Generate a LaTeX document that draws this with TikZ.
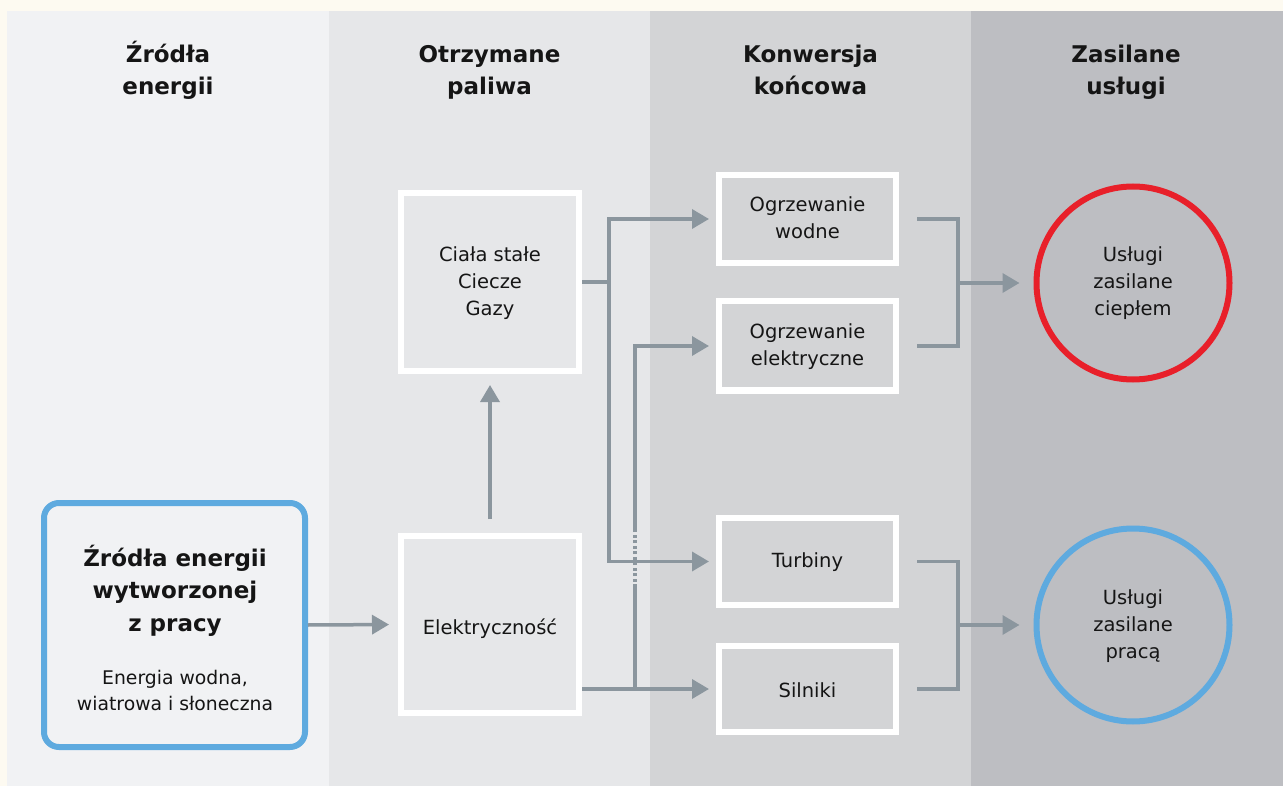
\documentclass[tikz,border=0pt]{standalone}
\usepackage{fontspec}
\setmainfont{DejaVu Sans}
\usetikzlibrary{arrows.meta}
\definecolor{cream}{HTML}{FDFAF1}
\definecolor{colA}{HTML}{F1F2F4}
\definecolor{colB}{HTML}{E6E7E9}
\definecolor{colC}{HTML}{D3D4D6}
\definecolor{colD}{HTML}{BDBEC2}
\definecolor{arrowc}{HTML}{8B969E}
\definecolor{heatred}{HTML}{E8202A}
\definecolor{workblue}{HTML}{5EAADF}
\definecolor{ink}{HTML}{151515}
\begin{document}
\begin{tikzpicture}[x=1pt,y=-1pt,
  hd/.style={align=center,text=ink,font=\fontsize{23}{32}\selectfont\bfseries,inner sep=0pt},
  txt/.style={align=center,text=ink,font=\fontsize{19.5}{27}\selectfont,inner sep=0pt},
  smalltxt/.style={align=center,text=ink,font=\fontsize{18.8}{26.5}\selectfont,inner sep=0pt},
  box/.style={draw=white,line width=6pt,inner sep=0pt},
  ring/.style={circle,line width=6pt,minimum size=193pt,inner sep=0pt},
  ln/.style={draw=arrowc,line width=3.5pt},
  arr/.style={draw=arrowc,line width=3.5pt,-{Triangle[length=17pt,width=19pt]}}]
\useasboundingbox (0,0) rectangle (1283,786);
\fill[cream] (0,0) rectangle (1283,786);
\fill[colA] (7,11) rectangle (329,786);
\fill[colB] (329,11) rectangle (650,786);
\fill[colC] (650,11) rectangle (971,786);
\fill[colD] (971,11) rectangle (1283,786);
% headers (anchor base = baseline of last line)
\node[hd,anchor=base] (h1) at (168,95) {Źródła\\energii};
\node[hd,anchor=base] (h2) at (489.5,95) {Otrzymane\\paliwa};
\node[hd,anchor=base] (h3) at (810.5,95) {Konwersja\\końcowa};
\node[hd,anchor=base] (h4) at (1126,95) {Zasilane\\usługi};
% source box
\node[draw=workblue,line width=6pt,rounded corners=15pt,minimum width=261pt,minimum height=244pt,inner sep=0pt] (src) at (174.5,625) {};
\node[hd,anchor=base,font=\fontsize{23}{32.5}\selectfont\bfseries] (srct) at (175,631) {Źródła energii\\wytworzonej\\z pracy};
\node[smalltxt,anchor=base] (srcs) at (175,710.5) {Energia wodna,\\wiatrowa i słoneczna};
% fuel boxes
\node[box,minimum width=178pt,minimum height=178pt] (ciala) at (490,282) {};
\node[txt,anchor=base] (cialat) at (490,316) {Ciała stałe\\Ciecze\\Gazy};
\node[box,minimum width=178pt,minimum height=177pt] (elek) at (490,624.5) {};
\node[txt,anchor=base] (elekt) at (490,634) {Elektryczność};
% conversion boxes
\node[box,minimum width=177pt,minimum height=88pt] (ogw) at (807.5,219) {};
\node[txt,anchor=base] (ogwt) at (807.5,239) {Ogrzewanie\\wodne};
\node[box,minimum width=177pt,minimum height=89pt] (oge) at (807.5,346) {};
\node[txt,anchor=base] (oget) at (807.5,366) {Ogrzewanie\\elektryczne};
\node[box,minimum width=177pt,minimum height=87pt] (turb) at (807.5,561.5) {};
\node[txt,anchor=base] (turbt) at (807.5,567) {Turbiny};
\node[box,minimum width=177pt,minimum height=86pt] (siln) at (807.5,689) {};
\node[txt,anchor=base] (silnt) at (807.5,697) {Silniki};
% service circles
\node[ring,draw=heatred] (heat) at (1133,283) {};
\node[txt,anchor=base] (heatt) at (1133,316) {Usługi\\zasilane\\ciepłem};
\node[ring,draw=workblue] (work) at (1133,625) {};
\node[txt,anchor=base] (workt) at (1133,658) {Usługi\\zasilane\\pracą};
% connectors
\draw[arr,shorten >=9pt] (src.east) -- (elek.west);
\draw[arr,shorten <=14pt,shorten >=11pt] (elek.north) -- (ciala.south);
\coordinate (t1) at ([xshift=27pt]ciala.east);
\draw[ln] (ciala.east) -- (t1);
\draw[arr,shorten >=7pt] (t1) |- (ogw.west);
\coordinate (t2) at ([xshift=53pt]elek.east |- siln.west);
\coordinate (da) at (635,587);
\coordinate (db) at (635,530);
\draw[ln] (t2) -- (da);
\draw[ln,dash pattern=on 3pt off 2.5pt] (da) -- (db);
\draw[arr,shorten >=7pt] (db) |- (oge.west);
\draw[arr,shorten >=7pt] (t1) |- (turb.west);
\draw[arr,shorten >=7pt] (elek.east |- siln.west) -- (siln.west);
% brackets
\coordinate (b1) at ([xshift=18pt]ogw.east);
\coordinate (b2) at ([xshift=18pt]oge.east);
\draw[ln] (b1) -- ++(41,0) |- (b2);
\coordinate (m1) at ([xshift=59pt]ogw.east |- heat.west);
\draw[arr,shorten >=14pt] (m1) -- (heat.west);
\coordinate (b3) at ([xshift=18pt]turb.east);
\coordinate (b4) at ([xshift=18pt]siln.east);
\draw[ln] (b3) -- ++(41,0) |- (b4);
\coordinate (m2) at ([xshift=59pt]turb.east |- work.west);
\draw[arr,shorten >=14pt] (m2) -- (work.west);
\end{tikzpicture}
\end{document}
